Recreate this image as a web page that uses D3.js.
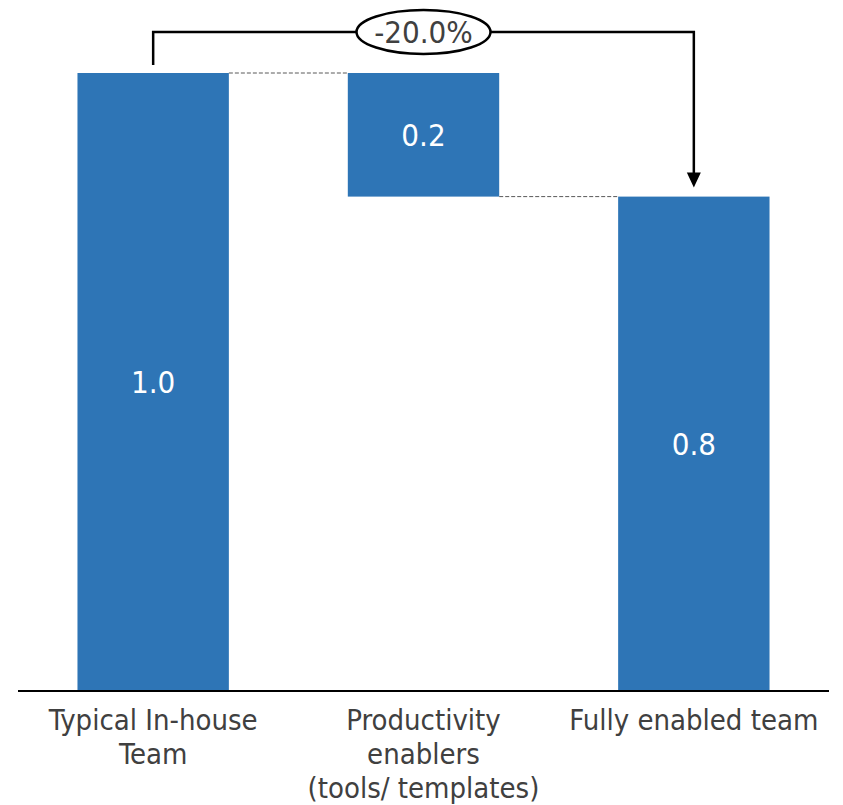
<!DOCTYPE html>
<html>
<head>
<meta charset="utf-8">
<script src="https://cdn.jsdelivr.net/npm/d3@7"></script>
<style>
  body { margin: 0; background: #fff; }
  text { font-family: "Liberation Sans Narrow", "DejaVu Sans Condensed", sans-serif; }
</style>
</head>
<body>
<svg id="chart" width="843" height="805"></svg>
<script>
// Waterfall data
const categories = ["Typical In-house Team", "Productivity enablers (tools/ templates)", "Fully enabled team"];
const labelLines = [["Typical In-house", "Team"], ["Productivity", "enablers", "(tools/ templates)"], ["Fully enabled team"]];
const starts = [0, 0.8, 0];
const ends = [1.0, 1.0, 0.8];
const valueLabels = ["1.0", "0.2", "0.8"];
const changeLabel = "-20.0%";

var svg = d3.select("svg#chart");

const blue = "#2E75B6",
      grey = "#404040";

var x = d3.scaleBand()
    .domain(categories)
    .range([18, 829])
    .paddingInner(0.44)
    .paddingOuter(0.22);

var y = d3.scaleLinear()
    .domain([0, 1])
    .range([691, 73]);

// bars
svg.append("g").selectAll("rect")
    .data(categories)
    .enter()
    .append("rect")
    .attr("x", d => x(d))
    .attr("width", x.bandwidth())
    .attr("y", (d, i) => y(ends[i]))
    .attr("height", (d, i) => y(starts[i]) - y(ends[i]))
    .style("fill", blue);

// value labels inside bars
svg.append("g").selectAll("text")
    .data(categories)
    .enter()
    .append("text")
    .attr("x", d => x(d) + x.bandwidth() / 2)
    .attr("y", (d, i) => (y(starts[i]) + y(ends[i])) / 2)
    .attr("dy", "0.35em")
    .attr("text-anchor", "middle")
    .style("font-size", "31px")
    .style("fill", "#fff")
    .text((d, i) => valueLabels[i]);

// dashed connectors between bars
for (let i = 0; i < categories.length - 1; i++) {
  const lvl = (i == 0) ? ends[0] : starts[1];
  svg.append("line")
      .attr("x1", x(categories[i]) + x.bandwidth())
      .attr("x2", x(categories[i + 1]))
      .attr("y1", y(lvl))
      .attr("y2", y(lvl))
      .style("stroke", "#595959")
      .style("stroke-width", 1)
      .style("stroke-dasharray", "4,2");
}

// baseline
svg.append("line")
    .attr("x1", 18).attr("x2", 829)
    .attr("y1", y(0)).attr("y2", y(0))
    .style("stroke", "#000")
    .style("stroke-width", 2);

// category labels
var lab = svg.append("g").selectAll("text")
    .data(categories)
    .enter()
    .append("text")
    .attr("text-anchor", "middle")
    .attr("x", d => x(d) + x.bandwidth() / 2)
    .attr("y", 730)
    .style("font-size", "29px")
    .style("fill", grey);

lab.each(function(d, i) {
  d3.select(this).selectAll("tspan")
    .data(labelLines[i])
    .enter()
    .append("tspan")
    .attr("x", x(d) + x.bandwidth() / 2)
    .attr("dy", (t, j) => j == 0 ? 0 : 34)
    .text(t => t);
});

// bracket with arrow showing overall change
const bracketY = 32;
const xl = x(categories[0]) + x.bandwidth() / 2,
      xr = x(categories[2]) + x.bandwidth() / 2,
      xm = x(categories[1]) + x.bandwidth() / 2;

svg.append("path")
    .attr("d", "M" + xl + "," + (y(ends[0]) - 8) + "V" + bracketY + "H" + xr + "V" + (y(ends[2]) - 22))
    .style("fill", "none")
    .style("stroke", "#000")
    .style("stroke-width", 2.5);

svg.append("path")
    .attr("d", "M" + (xr - 7) + "," + (y(ends[2]) - 24) + "L" + (xr + 7) + "," + (y(ends[2]) - 24) + "L" + xr + "," + (y(ends[2]) - 9) + "Z")
    .style("fill", "#000");

svg.append("ellipse")
    .attr("cx", xm).attr("cy", bracketY)
    .attr("rx", 67).attr("ry", 22)
    .style("fill", "#fff")
    .style("stroke", "#000")
    .style("stroke-width", 2.5);

svg.append("text")
    .attr("x", xm).attr("y", bracketY)
    .attr("dy", "0.35em")
    .attr("text-anchor", "middle")
    .style("font-size", "31px")
    .style("fill", grey)
    .text(changeLabel);
</script>
</body>
</html>
